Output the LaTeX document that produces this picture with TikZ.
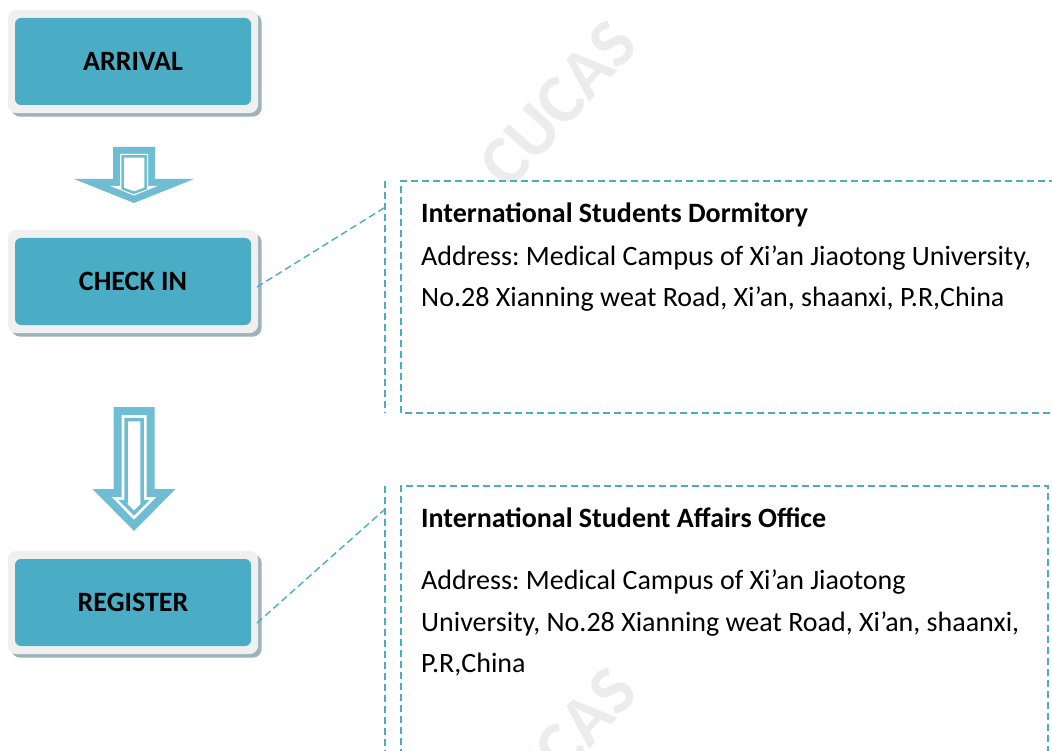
\documentclass[tikz,border=0pt]{standalone}
\usepackage{fontspec}
\setmainfont{Carlito}
\frenchspacing
\usetikzlibrary{backgrounds}
\definecolor{boxblue}{HTML}{4BACC6}
\definecolor{arrowblue}{HTML}{6FBDD2}
\definecolor{framegray}{HTML}{F0F0F0}
\definecolor{shadowgray}{HTML}{9DB3BA}
\definecolor{wmgray}{HTML}{ECECEC}
\definecolor{dashblue}{HTML}{4BACC6}
\newcommand\myarrowshape[8]{%
 \pgfmathsetmacro\myah{(#6)-(#4)}%
 \pgfmathsetmacro\myaL{sqrt((#5)^2+(\myah)^2)}%
 \pgfmathsetmacro\myaw{#3-#7}%
 \pgfmathsetmacro\myatop{#2+#7}%
 \pgfmathsetmacro\myab{#4+#7}%
 \pgfmathsetmacro\myaH{max(\myaw,#5-(#5*#7+#7*\myaL)/\myah)}%
 \pgfmathsetmacro\myat{max(\myab+1,#6-#7*\myaL/#5)}%
 \path[#8] (#1-\myaw,\myatop) -- (#1+\myaw,\myatop) -- (#1+\myaw,\myab) -- (#1+\myaH,\myab) -- (#1,\myat) -- (#1-\myaH,\myab) -- (#1-\myaw,\myab) -- cycle;%
}
\tikzset{
 stepbox/.style={fill=boxblue, rounded corners=6pt, minimum width=236pt, minimum height=87pt,
   inner sep=0pt, font=\bfseries\fontsize{28}{32}\selectfont, text=black},
 callout/.style={draw=dashblue, line width=1.4pt, dash pattern=on 7pt off 4pt},
 headtext/.style={anchor=base west, inner sep=0pt, font=\bfseries\fontsize{28}{32}\selectfont},
 bodytext/.style={anchor=base west, inner sep=0pt, font=\fontsize{28}{32}\selectfont},
 watermark/.style={text=wmgray, font=\bfseries\fontsize{70}{80}\selectfont, rotate=48, inner sep=0pt}
}
\begin{document}
\begin{tikzpicture}[x=1pt,y=-1pt]
\useasboundingbox (0,0) rectangle (1052,751);
% watermarks
\node[watermark] (wm1) at (558,104) {CUCAS};
\node[watermark] (wm2) at (558,751) {CUCAS};
% boxes
\node[stepbox] (arrival) at (133,61.5) {ARRIVAL};
\node[stepbox] (checkin) at (133,281.5) {CHECK IN};
\node[stepbox] (register) at (133,602.5) {REGISTER};
\begin{scope}[on background layer]
\fill[white] (0,0) rectangle (1052,751);
\foreach \n in {arrival,checkin,register}{
 \fill[shadowgray, rounded corners=9pt] ([xshift=-3.5pt,yshift=4.5pt]\n.north west) rectangle ([xshift=10.5pt,yshift=-11.5pt]\n.south east);
 \fill[framegray, rounded corners=9pt] ([xshift=-7pt,yshift=8pt]\n.north west) rectangle ([xshift=7pt,yshift=-8pt]\n.south east);
}
\end{scope}
% arrows
\myarrowshape{134}{147}{21}{179}{60}{203}{0}{fill=arrowblue}
\myarrowshape{134}{147}{21}{179}{60}{203}{7}{fill=white}
\myarrowshape{134}{147}{21}{179}{60}{203}{9.5}{draw=arrowblue,line width=2.5pt,fill=white,line join=miter}
\myarrowshape{134}{407}{20.5}{489}{41.5}{531}{0}{fill=arrowblue}
\myarrowshape{134}{407}{20.5}{489}{41.5}{531}{8}{fill=white}
\myarrowshape{134}{407}{20.5}{489}{41.5}{531}{12.5}{draw=arrowblue,line width=3.5pt,fill=white,line join=miter}
% callout 1
\coordinate (c1a) at (257,287);
\coordinate (c1b) at (384,208);
\coordinate (c1t) at (385,181);
\coordinate (c1u) at (385,413);
\coordinate (b1nw) at (401,181);
\coordinate (b1sw) at (401,413);
\coordinate (b1ne) at (1056,181);
\coordinate (b1se) at (1056,413);
\draw[callout] (c1a) -- (c1b);
\draw[callout] (c1t) -- (c1u);
\draw[callout] (b1ne) -- (b1nw) -- (b1sw) -- (b1se);
% callout 2
\coordinate (c2a) at (257,623);
\coordinate (c2b) at (384,510);
\coordinate (c2t) at (385,486);
\coordinate (c2u) at (385,756);
\coordinate (b2nw) at (401,486);
\coordinate (b2sw) at (401,756);
\coordinate (b2ne) at (1048,486);
\coordinate (b2se) at (1048,756);
\draw[callout] (c2a) -- (c2b);
\draw[callout] (c2t) -- (c2u);
\draw[callout] (b2sw) -- (b2nw) -- (b2ne) -- (b2se);
% texts
\node[headtext] (t1) at (421,222.5) {International Students Dormitory};
\node[bodytext] (t2) at (421,265.5) {Address: Medical Campus of Xi’an Jiaotong University,};
\node[bodytext] (t3) at (421,307) {No.28 Xianning weat Road, Xi’an, shaanxi, P.R,China};
\node[headtext] (t4) at (421,527) {International Student Affairs Office};
\node[bodytext] (t5) at (421,589) {Address: Medical Campus of Xi’an Jiaotong};
\node[bodytext] (t6) at (421,631) {University, No.28 Xianning weat Road, Xi’an, shaanxi,};
\node[bodytext] (t7) at (421,672) {P.R,China};
\end{tikzpicture}
\end{document}
